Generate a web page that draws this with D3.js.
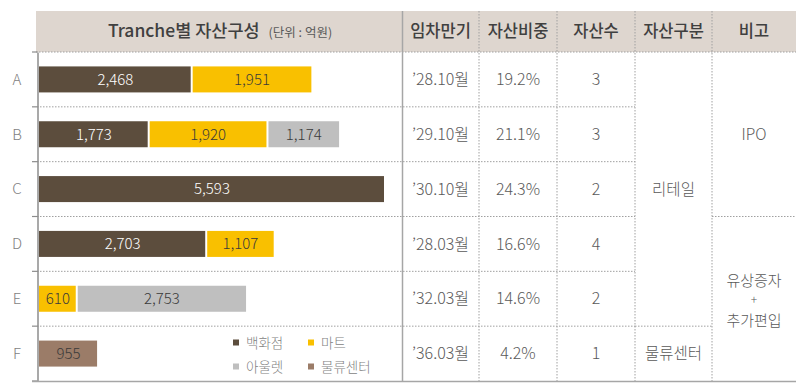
<!DOCTYPE html>
<html>
<head>
<meta charset="utf-8">
<script src="https://cdnjs.cloudflare.com/ajax/libs/d3/7.8.5/d3.min.js"></script>
<style>
  body { margin: 0; background: #fff; }
  svg { font-family: "Noto Sans CJK KR", "Noto Sans", sans-serif; }
</style>
</head>
<body>
<svg width="796" height="389"></svg>
<script>
  const tranches = ['A', 'B', 'C', 'D', 'E', 'F'];
  const dept = [2468, 1773, 5593, 2703, 0, 0];
  const mart = [1951, 1920, 0, 1107, 610, 0];
  const outlet = [0, 1174, 0, 0, 2753, 0];
  const logistics = [0, 0, 0, 0, 0, 955];
  const seriesNames = ['백화점', '마트', '아울렛', '물류센터'];
  const seriesColors = ['#5c4d3d', '#f9c000', '#bfbfbf', '#9b7c68'];

  const maturity = ['’28.10월', '’29.10월', '’30.10월', '’28.03월', '’32.03월', '’36.03월'];
  const weight = ['19.2%', '21.1%', '24.3%', '16.6%', '14.6%', '4.2%'];
  const assetCount = ['3', '3', '2', '4', '2', '1'];
  const headers = ['임차만기', '자산비중', '자산수', '자산구분', '비고'];

  const svg = d3.select('svg');
  const topY = 52, bottomY = 381;
  const colEdges = [402, 479, 557, 635, 712, 796];
  const lineColor = '#a0a0a0';
  const textColor = '#595959';

  // header band
  svg.append('rect')
    .attr('x', 36).attr('y', 11)
    .attr('width', 796 - 36).attr('height', topY - 11)
    .attr('fill', '#ded6cf');

  const rows = d3.scaleBand().domain(tranches).range([topY, bottomY]);
  const barH = 26;
  const x = d3.scaleLinear().domain([0, 5593]).range([39, 385]);

  const table = tranches.map((t, i) => ({
    t, '백화점': dept[i], '마트': mart[i], '아울렛': outlet[i], '물류센터': logistics[i]
  }));
  const stack = d3.stack().keys(seriesNames)(table);

  // row lines
  const bounds = tranches.slice(1).map(t => rows(t));
  const g = svg.append('g');
  bounds.forEach(y => {
    g.append('line').attr('x1', 37).attr('x2', 635).attr('y1', y).attr('y2', y)
      .attr('stroke', lineColor).attr('stroke-dasharray', '1.5,1.5');
    if (y === rows('F'))
      g.append('line').attr('x1', 635).attr('x2', 712).attr('y1', y).attr('y2', y)
        .attr('stroke', lineColor).attr('stroke-dasharray', '1.5,1.5');
    if (y === rows('D'))
      g.append('line').attr('x1', 712).attr('x2', 796).attr('y1', y).attr('y2', y)
        .attr('stroke', lineColor).attr('stroke-dasharray', '1.5,1.5');
  });
  g.append('line').attr('x1', 36).attr('x2', 796).attr('y1', topY).attr('y2', topY)
    .attr('stroke', lineColor).attr('stroke-dasharray', '1.5,1.5');

  // column lines
  colEdges.slice(1, 5).forEach(cx => {
    g.append('line').attr('x1', cx).attr('x2', cx).attr('y1', 11).attr('y2', bottomY)
      .attr('stroke', lineColor).attr('stroke-dasharray', '1.5,1.5');
  });
  g.append('line').attr('x1', 402.5).attr('x2', 402.5).attr('y1', 11).attr('y2', bottomY)
    .attr('stroke', '#a6a6a6').attr('stroke-width', 1.5);

  // left axis
  const axis = d3.axisLeft(rows).tickSize(0).tickFormat('');
  const axisG = svg.append('g').attr('transform', 'translate(37.5,0)').call(axis);
  axisG.select('.domain').attr('stroke', '#8c8c8c').attr('stroke-width', 1.5);
  [topY].concat(bounds).concat([bottomY]).forEach(y => {
    axisG.append('line').attr('x1', -5.5).attr('x2', 0).attr('y1', y).attr('y2', y)
      .attr('stroke', '#8c8c8c').attr('stroke-width', 1.2);
  });
  svg.append('line').attr('x1', 32).attr('x2', 796).attr('y1', bottomY + 0.5).attr('y2', bottomY + 0.5)
    .attr('stroke', '#a6a6a6').attr('stroke-width', 1.5);

  // row letters
  svg.append('g').selectAll('text').data(tranches).enter().append('text')
    .attr('x', 17).attr('y', d => rows(d) + rows.bandwidth() / 2)
    .attr('dy', '0.35em').attr('text-anchor', 'middle')
    .attr('font-size', 15).attr('fill', '#7f7f7f').attr('font-weight', 300)
    .text(d => d);

  // bars
  const barY = t => rows(t) + (rows.bandwidth() - barH) / 2;
  stack.forEach((layer, si) => {
    const lg = svg.append('g');
    const segs = layer.filter(d => d[1] - d[0] > 0);
    lg.selectAll('rect').data(segs).enter().append('rect')
      .attr('x', d => x(d[0]) + (d[0] > 0 ? 1 : 0))
      .attr('y', d => barY(d.data.t))
      .attr('width', d => x(d[1]) - x(d[0]) - (d[0] > 0 ? 1 : 0) - 1)
      .attr('height', barH)
      .attr('fill', seriesColors[si]);
    lg.selectAll('text').data(segs).enter().append('text')
      .attr('x', d => (x(d[0]) + x(d[1])) / 2)
      .attr('y', d => barY(d.data.t) + barH / 2)
      .attr('dy', '0.35em').attr('text-anchor', 'middle')
      .attr('font-size', 15).attr('font-weight', 300)
      .attr('fill', si === 0 ? '#ffffff' : '#3a3a3a')
      .text(d => d3.format(',')(d[1] - d[0]));
  });

  // header texts
  const title = svg.append('text').attr('x', 220).attr('y', 31).attr('dy', '0.35em')
    .attr('text-anchor', 'middle').attr('fill', '#404040');
  title.append('tspan').attr('font-size', 17.5).attr('font-weight', 500).text('Tranche별 자산구성');
  title.append('tspan').attr('font-size', 12.5).attr('fill', '#595959').attr('dx', 9).text('(단위 : 억원)');

  headers.forEach((h, i) => {
    svg.append('text')
      .attr('x', (colEdges[i] + colEdges[i + 1]) / 2).attr('y', 31).attr('dy', '0.35em')
      .attr('text-anchor', 'middle').attr('font-size', 16.5).attr('font-weight', 500)
      .attr('fill', '#404040').text(h);
  });

  // table cells
  [maturity, weight, assetCount].forEach((col, ci) => {
    svg.append('g').selectAll('text').data(col).enter().append('text')
      .attr('x', (colEdges[ci] + colEdges[ci + 1]) / 2)
      .attr('y', (d, i) => rows(tranches[i]) + rows.bandwidth() / 2)
      .attr('dy', '0.35em').attr('text-anchor', 'middle')
      .attr('font-size', 16).attr('font-weight', 300).attr('fill', textColor)
      .text(d => d);
  });

  const cell = (txt, ci, y) => svg.append('text')
    .attr('x', (colEdges[ci] + colEdges[ci + 1]) / 2).attr('y', y)
    .attr('dy', '0.35em').attr('text-anchor', 'middle')
    .attr('font-size', 15.5).attr('font-weight', 300).attr('fill', textColor).text(txt);
  cell('리테일', 3, (topY + rows('F')) / 2);
  cell('물류센터', 3, rows('F') + rows.bandwidth() / 2);
  cell('IPO', 4, (topY + rows('D')) / 2);

  // merged note cell: three stacked lines, baselines spaced so boxes don't touch
  const noteX = (colEdges[4] + colEdges[5]) / 2;
  const noteLines = [['유상증자', 15, 285.5], ['+', 12, 304], ['추가편입', 15, 325.5]];
  noteLines.forEach(([txt, fs, by]) => {
    svg.append('text').attr('x', noteX).attr('y', by)
      .attr('text-anchor', 'middle').attr('font-size', fs).attr('font-weight', 300)
      .attr('fill', textColor).text(txt);
  });

  // legend
  const legend = svg.append('g');
  const legPos = [[233, 343], [308, 343], [233, 367], [308, 367]];
  seriesNames.forEach((n, i) => {
    legend.append('rect').attr('x', legPos[i][0]).attr('y', legPos[i][1] - 3.5)
      .attr('width', 6).attr('height', 6).attr('fill', seriesColors[i]);
    legend.append('text').attr('x', legPos[i][0] + 13).attr('y', legPos[i][1])
      .attr('dy', '0.35em').attr('font-size', 13.5).attr('font-weight', 300)
      .attr('fill', '#7f7f7f').text(n);
  });
</script>
</body>
</html>
